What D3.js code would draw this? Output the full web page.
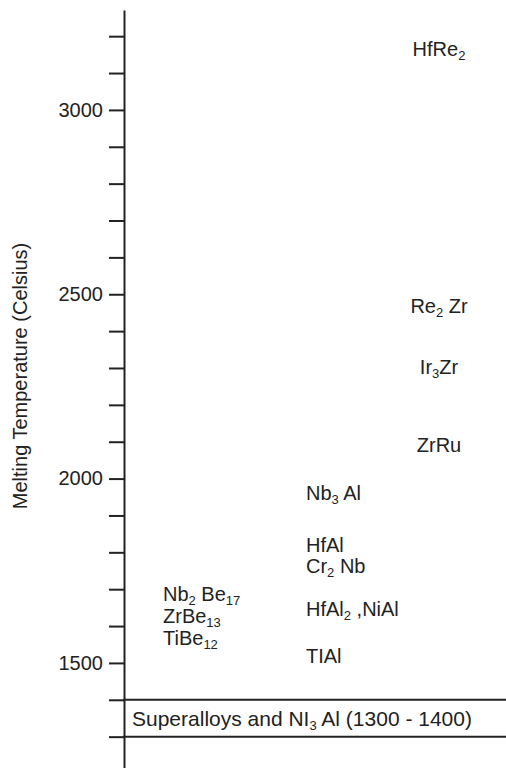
<!DOCTYPE html>
<html lang="en">
<head>
  <meta charset="UTF-8">
  <title>Melting temperature</title>
  <script src="https://cdn.jsdelivr.net/npm/d3@7"></script>
  <style>
    body { margin: 0; background: #fff; }
    text { font-family: "Liberation Sans", Arial, Helvetica, sans-serif; fill: #222; }
  </style>
</head>
<body>
<script>
  let w = 506;
  let h = 768;

  // compounds (_n = subscript), melting point in Celsius, column
  const compounds = ["HfRe_2", "Re_2 Zr", "Ir_3Zr", "ZrRu",
    "Nb_3 Al", "HfAl", "Cr_2 Nb", "HfAl_2 ,NiAl", "TIAl",
    "Nb_2 Be_17", "ZrBe_13", "TiBe_12"];
  const meltingC = [3165, 2468, 2302, 2092, 1961, 1821, 1763, 1647, 1518, 1686, 1627, 1568];
  const column = [2, 2, 2, 2, 1, 1, 1, 1, 1, 0, 0, 0];

  // superalloys band
  const bandRange = [1300, 1400];
  const bandLabel = "Superalloys and NI_3 Al (1300 - 1400)";

  const tickValues = [1300, 1400, 1500, 1600, 1700, 1800, 1900, 2000, 2100, 2200,
    2300, 2400, 2500, 2600, 2700, 2800, 2900, 3000, 3100, 3200];
  const tickLabels = [1500, 2000, 2500, 3000];

  let svg = d3.select("body").append("svg").attr("width", w).attr("height", h)

  let y = d3.scaleLinear().domain([1215, 3271]).range([h, 10])
  // columns of labels
  let x = d3.scaleOrdinal().domain([0, 1, 2]).range([163, 306, 439])
  let anchor = d3.scaleOrdinal().domain([0, 1, 2]).range(["start", "start", "middle"])

  const axisX = 124;

  // y axis
  let axis = d3.axisLeft(y)
    .tickValues(tickValues)
    .tickSize(15)
    .tickSizeOuter(0)
    .tickPadding(6)
    .tickFormat(d => tickLabels.includes(d) ? d : "")
  let g = svg.append("g").attr("transform", `translate(${axisX},0)`).call(axis)
  g.select(".domain").attr("stroke", "#222").attr("stroke-width", 2)
  g.selectAll(".tick line").attr("stroke", "#222").attr("stroke-width", 2)
  g.selectAll(".tick text").attr("font-size", "20px").attr("fill", "#222")
    .style("font-family", '"Liberation Sans", Arial, sans-serif')

  // axis title
  svg.append("text")
    .attr("transform", "translate(27,376) rotate(-90)")
    .attr("text-anchor", "middle")
    .attr("font-size", "20px")
    .text("Melting Temperature (Celsius)")

  // label with subscripts
  function addLabel(sel, str) {
    let parts = str.split(/_(\d+)/)
    parts.forEach(function (p, i) {
      if (p === "") return
      let t = sel.append("tspan").text(p)
      if (i % 2 === 1) {
        t.attr("font-size", "13px").attr("dy", 4)
      } else if (i > 0) {
        t.attr("dy", -4)
      }
    })
  }

  // band lines
  svg.selectAll("line.band")
    .data(bandRange)
    .enter()
    .append("line")
    .attr("class", "band")
    .attr("x1", axisX - 1)
    .attr("x2", w)
    .attr("y1", d => y(d))
    .attr("y2", d => y(d))
    .attr("stroke", "#222")
    .attr("stroke-width", 2)

  let bt = svg.append("text")
    .attr("x", axisX + 8)
    .attr("y", (y(bandRange[0]) + y(bandRange[1])) / 2)
    .attr("dy", "0.35em")
    .attr("font-size", "21px")
  addLabel(bt, bandLabel)

  // compound labels
  svg.selectAll("text.cmp")
    .data(compounds)
    .enter()
    .append("text")
    .attr("class", "cmp")
    .attr("x", (d, i) => x(column[i]))
    .attr("y", (d, i) => y(meltingC[i]))
    .attr("dy", "0.35em")
    .attr("font-size", "20px")
    .attr("text-anchor", (d, i) => anchor(column[i]))
    .each(function (d) { addLabel(d3.select(this), d) })
</script>
</body>
</html>
